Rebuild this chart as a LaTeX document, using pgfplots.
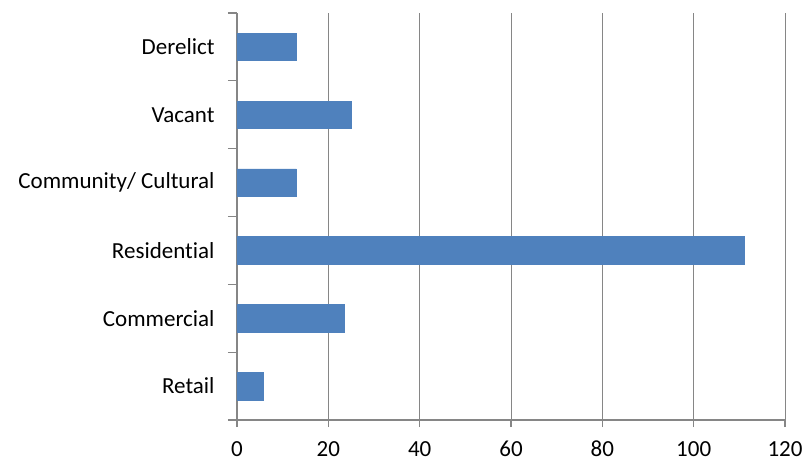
\documentclass[border=0pt]{standalone}
\usepackage{fontspec}
\setmainfont{Carlito}[Ligatures=NoCommon]
\usepackage{pgfplots}
\pgfplotsset{compat=1.18}
\definecolor{barblue}{HTML}{4F81BD}
\definecolor{axgray}{HTML}{868686}

\begin{document}
\begin{tikzpicture}
\useasboundingbox (-237bp,-40bp) rectangle (571bp,420bp);
\begin{axis}[
  at={(0,0)}, anchor=south west,
  scale only axis, width=548bp, height=407bp,
  xbar, bar width=27.5bp,
  xmin=0, xmax=120,
  ymin=-0.5, ymax=5.5,
  xtick={0,20,...,120},
  ytick={0,...,5},
  yticklabels={Retail,Commercial,Residential,Community/ Cultural,Vacant,Derelict},
  minor ytick={-0.5,0.5,...,5.5},
  axis x line*=bottom, axis y line*=left,
  axis line style={axgray, line width=1.2bp},
  xmajorgrids, grid style={axgray, line width=1bp},
  tick align=outside,
  tick style={axgray, line width=1.2bp},
  major tick length=7bp, minor tick length=9bp,
  major y tick style={draw=none},
  ticklabel style={font=\fontsize{23bp}{27bp}\selectfont, text=black},
  /pgf/number format/assume math mode=true,
  xticklabel style={inner sep=0pt, anchor=north, yshift=-14bp},
  yticklabel style={xshift=-12bp},
]
\addplot[fill=barblue, draw=barblue] coordinates {
  (5.8,0) (23.4,1) (111,2) (13,3) (25,4) (13,5)};
\end{axis}
\end{tikzpicture}
\end{document}
